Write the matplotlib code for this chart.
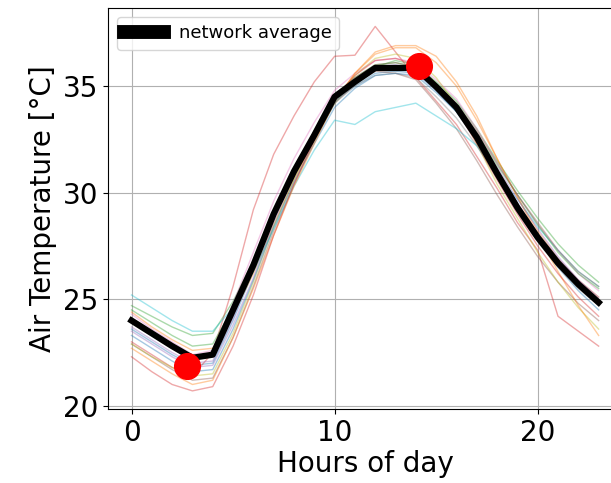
import numpy as np
from matplotlib import pyplot as plt

# hours of day
hours = np.arange(24)

# hourly air temperature of each station
stations = [
    [23.6, 23.0, 22.4, 21.9, 22.0, 24.0, 26.3, 28.8, 30.9, 32.6, 34.3, 35.0, 35.6, 35.7, 35.6, 34.8, 33.8, 32.4, 30.8, 29.2, 27.8, 26.5, 25.4, 24.5],
    [24.4, 23.7, 23.1, 22.6, 22.7, 24.3, 26.2, 28.5, 30.6, 32.5, 34.3, 35.6, 36.6, 36.9, 36.9, 36.4, 35.2, 33.6, 31.6, 29.8, 28.2, 26.9, 25.9, 25.1],
    [24.7, 24.2, 23.7, 23.3, 23.4, 24.9, 26.8, 28.9, 30.8, 32.5, 34.2, 35.3, 35.9, 36.2, 36.0, 35.2, 34.3, 33.0, 31.5, 30.1, 28.8, 27.6, 26.6, 25.8],
    [23.0, 22.4, 21.8, 21.4, 22.5, 25.6, 29.2, 31.8, 33.6, 35.2, 36.4, 36.45, 37.8, 36.6, 35.4, 34.3, 33.2, 31.7, 30.2, 28.6, 27.3, 24.2, 23.5, 22.8],
    [23.5, 22.9, 22.3, 21.8, 21.9, 23.8, 26.0, 28.6, 30.7, 32.5, 34.3, 35.2, 35.8, 35.9, 35.7, 34.8, 33.9, 32.6, 31.0, 29.5, 28.1, 26.9, 25.9, 25.1],
    [22.9, 22.3, 21.7, 21.2, 21.3, 23.2, 25.6, 28.2, 30.4, 32.4, 34.2, 35.1, 35.7, 35.6, 35.3, 34.2, 33.0, 31.5, 29.9, 28.4, 27.0, 25.8, 24.8, 24.0],
    [24.3, 23.6, 23.0, 22.4, 22.6, 24.8, 27.2, 29.6, 31.6, 33.3, 34.8, 35.6, 36.2, 36.3, 36.1, 35.3, 34.4, 33.0, 31.4, 29.9, 28.5, 27.3, 26.2, 25.4],
    [23.9, 23.3, 22.7, 22.2, 22.3, 24.2, 26.4, 28.8, 30.8, 32.5, 34.2, 35.0, 35.5, 35.6, 35.4, 34.5, 33.5, 32.2, 30.7, 29.1, 27.7, 26.5, 25.5, 24.7],
    [22.9, 22.3, 21.8, 21.4, 21.5, 23.4, 25.8, 28.4, 30.6, 32.6, 34.4, 35.5, 36.3, 36.5, 36.3, 35.4, 34.1, 32.3, 30.4, 28.8, 27.2, 25.8, 24.6, 23.6],
    [25.2, 24.6, 24.0, 23.5, 23.5, 24.6, 26.3, 28.3, 30.3, 32.0, 33.4, 33.2, 33.8, 34.0, 34.2, 33.6, 33.0, 32.2, 30.9, 29.7, 28.4, 27.3, 26.3, 25.6],
    [23.3, 22.7, 22.1, 21.6, 21.7, 23.6, 25.9, 28.4, 30.5, 32.3, 34.0, 34.9, 35.5, 35.6, 35.5, 34.7, 33.8, 32.5, 30.9, 29.4, 28.0, 26.7, 25.6, 24.7],
    [22.7, 22.1, 21.5, 21.0, 21.2, 23.2, 25.5, 28.0, 30.3, 32.3, 34.3, 35.6, 36.5, 36.8, 36.8, 36.1, 35.0, 33.4, 31.6, 29.8, 28.0, 26.3, 24.7, 23.3],
    [24.5, 23.9, 23.3, 22.8, 22.9, 24.6, 26.8, 29.1, 31.1, 32.8, 34.5, 35.4, 36.0, 36.1, 35.9, 35.0, 34.1, 32.8, 31.3, 29.9, 28.5, 27.2, 26.2, 25.5],
    [22.3, 21.6, 21.0, 20.7, 20.9, 22.8, 25.2, 28.0, 30.4, 32.5, 34.4, 35.5, 36.2, 36.3, 36.0, 35.1, 33.9, 32.3, 30.6, 29.0, 27.5, 26.2, 25.1, 24.2],
    [23.7, 23.1, 22.5, 22.0, 22.1, 24.1, 26.5, 29.0, 31.0, 32.8, 34.5, 35.3, 35.9, 36.0, 35.8, 35.0, 34.0, 32.7, 31.2, 29.7, 28.3, 27.0, 25.9, 25.0],
    [24.1, 23.5, 22.9, 22.3, 22.4, 24.4, 26.6, 29.0, 31.1, 32.9, 34.6, 35.4, 36.0, 36.1, 35.9, 35.1, 34.2, 32.9, 31.4, 29.9, 28.6, 27.3, 26.3, 25.6],
]

# network average (black line)
network_avg = [24.0, 23.4, 22.8, 22.25, 22.4, 24.5, 26.6, 29.0, 31.0, 32.7, 34.5, 35.2,
               35.85, 35.85, 35.85, 34.97, 34.0, 32.6, 30.9, 29.3, 27.9, 26.7, 25.7, 24.85]

# min / max markers
extreme_hours = [2.73, 14.16]
extreme_temps = [21.85, 35.94]

fig = plt.figure(figsize=(6.11, 4.83), dpi=100)
ax = fig.add_axes([0.177, 0.153, 0.841, 0.83])

for s in stations:
    ax.plot(hours, s, lw=1, alpha=0.4)

ax.plot(hours, network_avg, color='black', lw=4.5, label='network average', zorder=5)
ax.plot(extreme_hours, extreme_temps, 'o', color='red', markersize=18.5, zorder=6)

leg = ax.legend(loc='upper left', fontsize=13, handlelength=2.2)
for h in leg.legend_handles:
    h.set_linewidth(10)

ax.set_xticks([0, 10, 20])
ax.set_yticks([20, 25, 30, 35])
ax.tick_params(labelsize=20)
ax.set_xlabel('Hours of day', fontsize=20, labelpad=2)
ax.set_ylabel('Air Temperature [°C]', fontsize=20)
ax.grid()

fig.savefig('out.png', dpi=100)
